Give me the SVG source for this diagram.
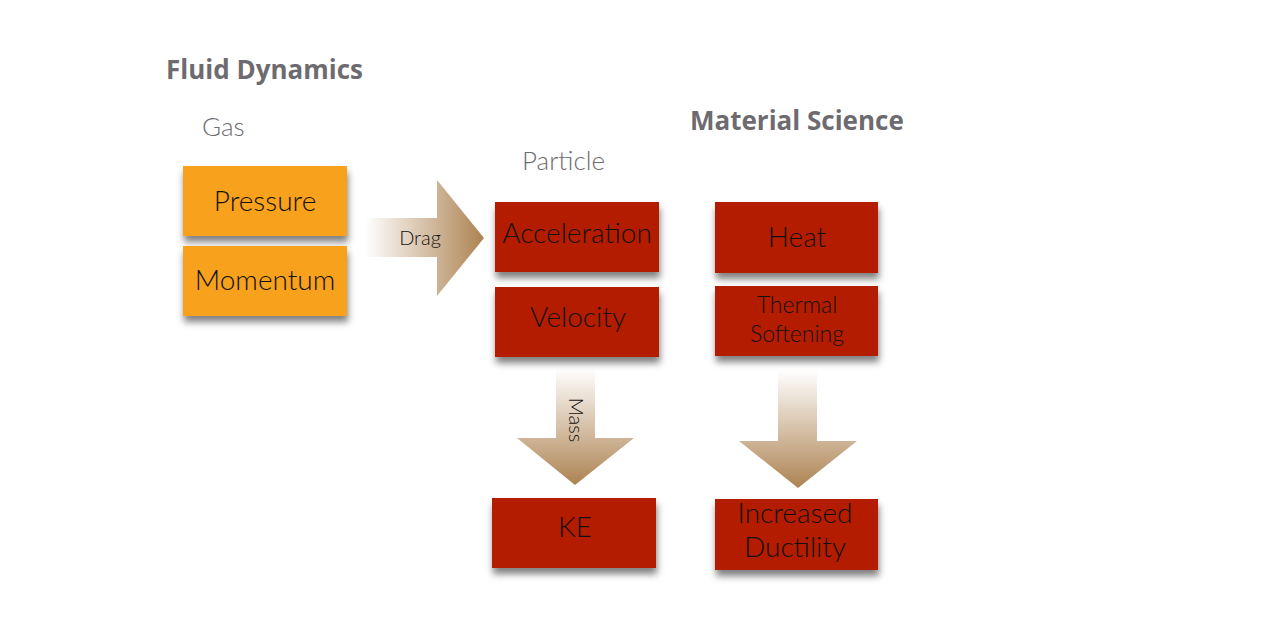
<svg xmlns="http://www.w3.org/2000/svg" width="1280" height="630" viewBox="0 0 1280 630">
<defs>
<filter id="sh" x="-10%" y="-10%" width="125%" height="145%">
<feDropShadow dx="1" dy="6" stdDeviation="3.5" flood-color="#000" flood-opacity="0.5"/>
</filter>
<linearGradient id="gh" x1="0" y1="0" x2="1" y2="0">
<stop offset="0" stop-color="#ffffff"/>
<stop offset="1" stop-color="#ad8352"/>
</linearGradient>
<linearGradient id="gv" x1="0" y1="0" x2="0" y2="1">
<stop offset="0" stop-color="#ffffff"/>
<stop offset="1" stop-color="#ad8352"/>
</linearGradient>
<style>
.title{font-family:"Open Sans","Liberation Sans",sans-serif;font-weight:700;font-size:26px;fill:#6e6b70}
.sub{font-family:Lato,"Liberation Sans",sans-serif;font-weight:300;font-size:26px;fill:#6e6b70}
.lbl{font-family:Lato,"Liberation Sans",sans-serif;font-weight:300;font-size:28px;fill:#111;text-anchor:middle}
.sm{font-family:Lato,"Liberation Sans",sans-serif;font-weight:300;font-size:20px;fill:#111;text-anchor:middle}
.or{fill:#f7a11a;filter:url(#sh)}
.rd{fill:#b41a00;filter:url(#sh)}
</style>
</defs>
<rect width="1280" height="630" fill="#fff"/>
<text class="title" x="166" y="79">Fluid Dynamics</text>
<text class="title" x="690" y="130">Material Science</text>
<text class="sub" x="202" y="136">Gas</text>
<text class="sub" x="522" y="170">Particle</text>
<g id="connectors">
<g id="drag">
<path d="M365,218 H437 V180 L484,238 L437,296 V257 H365 Z" fill="url(#gh)"/>
<text class="sm" x="420" y="245">Drag</text>
</g>
<g id="mass">
<path d="M556,368 H595 V438 H634 L575,485 L517,438 H556 Z" fill="url(#gv)"/>
<text class="sm" transform="translate(569,420) rotate(90)">Mass</text>
</g>
<g id="soften">
<path d="M778,370 H817 V441 H857 L798,488 L739,441 H778 Z" fill="url(#gv)"/>
</g>
</g>
<g id="pressure"><rect class="or" x="183" y="166" width="164" height="70"/><text class="lbl" x="265" y="211">Pressure</text></g>
<g id="momentum"><rect class="or" x="183" y="246" width="164" height="70"/><text class="lbl" x="265" y="290">Momentum</text></g>
<g id="acceleration"><rect class="rd" x="495" y="202" width="164" height="70"/><text class="lbl" x="577" y="243">Acceleration</text></g>
<g id="velocity"><rect class="rd" x="495" y="287" width="164" height="70"/><text class="lbl" x="578" y="327">Velocity</text></g>
<g id="heat"><rect class="rd" x="715" y="202" width="163" height="71"/><text class="lbl" x="797" y="247">Heat</text></g>
<g id="thermal"><rect class="rd" x="715" y="286" width="163" height="70"/><text class="lbl" x="797" y="313" style="font-size:23px">Thermal</text><text class="lbl" x="797" y="342" style="font-size:23px">Softening</text></g>
<g id="ke"><rect class="rd" x="492" y="498" width="164" height="70"/><text class="lbl" x="575" y="537">KE</text></g>
<g id="ductility"><rect class="rd" x="715" y="499" width="163" height="71"/><text class="lbl" x="795" y="523">Increased</text><text class="lbl" x="795" y="557">Ductility</text></g>
</svg>
